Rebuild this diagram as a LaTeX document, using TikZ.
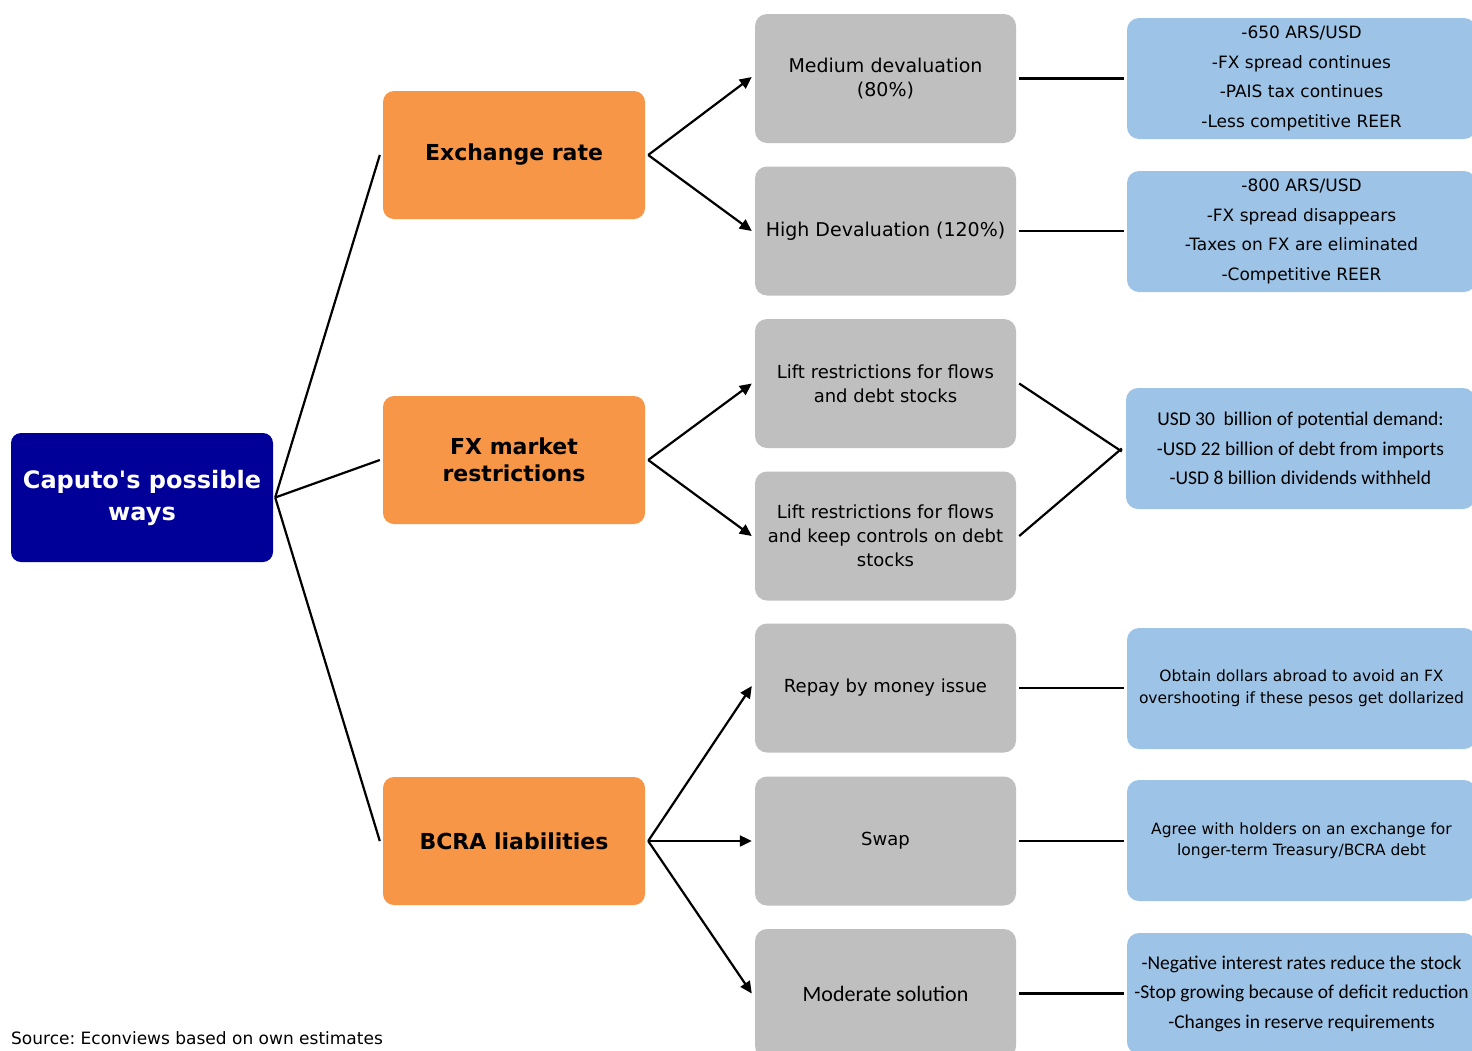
\documentclass[tikz,border=0pt]{standalone}
\usepackage{fontspec}
\setmainfont{DejaVu Sans}
\newfontfamily\dvs{DejaVu Sans}
\newfontfamily\calfont{Carlito}
\usetikzlibrary{arrows.meta}
\definecolor{rootblue}{RGB}{0,0,153}
\definecolor{orng}{RGB}{247,150,70}
\definecolor{gry}{RGB}{191,191,191}
\definecolor{lblue}{RGB}{157,195,230}
\frenchspacing
\begin{document}
\frenchspacing
\begin{tikzpicture}[x=1pt,y=-1pt,
  rootbox/.style={fill=rootblue, text=white, rounded corners=10pt, minimum width=262pt, minimum height=129pt, inner sep=0pt, align=center, font=\bfseries\fontsize{24}{32}\selectfont},
  catbox/.style={fill=orng, rounded corners=11pt, minimum width=262pt, minimum height=128pt, inner sep=0pt, align=center, font=\bfseries\fontsize{22}{27}\selectfont},
  optbox/.style={fill=gry, rounded corners=12pt, minimum width=261pt, minimum height=129pt, inner sep=0pt, align=center, font=\fontsize{18}{24}\selectfont},
  notebox/.style={fill=lblue, rounded corners=12pt, minimum width=349pt, minimum height=121pt, inner sep=0pt, align=center, font=\fontsize{17}{29.5}\selectfont},
  conn/.style={line width=2.2pt},
  arr/.style={conn, -{Triangle[length=12pt,width=11pt]}}
]
\clip (0,0) rectangle (1472,1050);
\fill[white] (0,0) rectangle (1472,1050);

% root
\node[rootbox] (root) at (142,497.5) {{\dvs Caputo's possible}\\ways};

% categories
\node[catbox] (er) at (514,155) {Exchange rate};
\node[catbox] (fx) at (514,460) {FX market\\restrictions};
\node[catbox] (bcra) at (514,841) {BCRA liabilities};

% options
\node[optbox, font=\fontsize{19}{24}\selectfont] (med) at (885.5,78.5) {Medium devaluation\\(80\%)};
\node[optbox, font=\fontsize{19}{24}\selectfont] (high) at (885.5,231) {High Devaluation (120\%)};
\node[optbox] (lift1) at (885.5,383.5) {Lift restrictions for flows\\and debt stocks};
\node[optbox] (lift2) at (885.5,536) {Lift restrictions for flows\\and keep controls on debt\\stocks};
\node[optbox] (repay) at (885.5,688) {Repay by money issue};
\node[optbox] (swap) at (885.5,841) {Swap};
\node[optbox, font=\calfont\fontsize{22}{26}\selectfont] (mod) at (885.5,993.5) {Moderate solution};

% notes
\node[notebox] (n1) at (1301.5,78.5) {-650 ARS/USD\\-FX spread continues\\-PAIS tax continues\\-Less competitive REER};
\node[notebox] (n2) at (1301.5,231.5) {-800 ARS/USD\\-FX spread disappears\\-Taxes on FX are eliminated\\-Competitive REER};
\node[notebox, font=\calfont\fontsize{19.5}{29.5}\selectfont] (n3) at (1300.5,448.5) {USD 30\ \ billion of potential demand:\\-USD 22 billion of debt from imports\\-USD 8 billion dividends withheld};
\node[notebox, font=\fontsize{15.5}{22}\selectfont] (n4) at (1301.5,688.5) {Obtain dollars abroad to avoid an FX\\overshooting if these pesos get dollarized};
\node[notebox, font=\fontsize{15.5}{21.5}\selectfont] (n5) at (1301.5,840.5) {Agree with holders on an exchange for\\longer-term Treasury/BCRA debt};
\node[notebox, font=\calfont\fontsize{19.5}{29.5}\selectfont] (n6) at (1301.5,993.5) {-Negative interest rates reduce the stock\\-Stop growing because of deficit reduction\\-Changes in reserve requirements};

% root connectors
\draw[conn] ([xshift=2pt]root.east) -- ([xshift=-3pt]er.west);
\draw[conn] ([xshift=2pt]root.east) -- ([xshift=-3pt]fx.west);
\draw[conn] ([xshift=2pt]root.east) -- ([xshift=-3pt]bcra.west);

% category arrows
\draw[arr] ([xshift=3pt]er.east) -- ([xshift=-3pt,yshift=1.5pt]med.west);
\draw[arr] ([xshift=3pt]er.east) -- ([xshift=-3pt]high.west);
\draw[arr] ([xshift=3pt]fx.east) -- ([xshift=-3pt]lift1.west);
\draw[arr] ([xshift=3pt]fx.east) -- ([xshift=-3pt]lift2.west);
\draw[arr] ([xshift=3pt]bcra.east) -- ([xshift=-3pt,yshift=2pt]repay.west);
\draw[arr] ([xshift=3pt]bcra.east) -- ([xshift=-3pt]swap.west);
\draw[arr] ([xshift=3pt]bcra.east) -- ([xshift=-3pt]mod.west);

% option to note lines
\draw[conn] ([xshift=3pt]med.east) -- ([xshift=-3pt]med.east -| n1.west);
\draw[conn] ([xshift=3pt]high.east) -- ([xshift=-3pt]high.east -| n2.west);
\draw[conn] ([xshift=3pt]lift1.east) -- ([xshift=-4pt,yshift=-3pt]n3.west);
\draw[conn] ([xshift=3pt]lift2.east) -- ([xshift=-4pt]n3.west);
\draw[conn] ([xshift=3pt]repay.east) -- ([xshift=-3pt]repay.east -| n4.west);
\draw[conn] ([xshift=3pt]swap.east) -- ([xshift=-3pt]swap.east -| n5.west);
\draw[conn] ([xshift=3pt]mod.east) -- ([xshift=-3pt]mod.east -| n6.west);

% source
\node[anchor=west, inner sep=0pt, font=\fontsize{17}{20}\selectfont] (src) at (11,1038) {Source: Econviews based on own estimates};
\end{tikzpicture}
\end{document}
